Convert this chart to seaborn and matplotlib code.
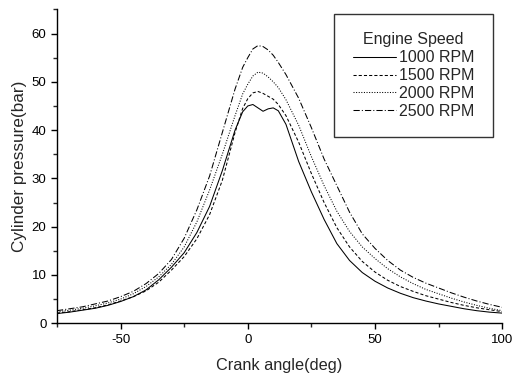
import matplotlib
matplotlib.use("Agg")
import matplotlib.pyplot as plt
from matplotlib.ticker import MultipleLocator
import seaborn as sns
import pandas as pd

crank_angle = [-75, -70, -65, -60, -55, -50, -45, -40, -35, -30, -25, -20, -15, -10, -5, -2,
               0, 2, 4, 6, 8, 10, 12, 15, 20, 25, 30, 35, 40, 45, 50, 55, 60, 65, 70, 75,
               80, 85, 90, 95, 100]

p_1000 = [2.0, 2.3, 2.7, 3.1, 3.7, 4.5, 5.5, 6.9, 9.0, 11.6, 14.6, 18.8, 24.2, 31.6, 40.0, 43.8,
          45.0, 45.3, 44.6, 43.9, 44.4, 44.6, 44.0, 41.2, 33.5, 27.2, 21.5, 16.5, 13.0, 10.5, 8.7, 7.3, 6.2, 5.3, 4.6, 4.0,
          3.5, 3.0, 2.6, 2.3, 2.1]
p_1500 = [2.1, 2.4, 2.8, 3.2, 3.8, 4.6, 5.5, 6.7, 8.5, 11.0, 13.8, 17.5, 22.5, 29.6, 39.5, 44.5,
          46.5, 47.7, 48.0, 47.6, 47.0, 46.4, 45.3, 43.0, 37.5, 31.0, 25.0, 19.8, 15.8, 12.8, 10.6, 8.9, 7.6, 6.6, 5.7, 5.0,
          4.3, 3.7, 3.2, 2.8, 2.4]
p_2000 = [2.4, 2.7, 3.1, 3.6, 4.2, 5.0, 6.1, 7.6, 9.6, 12.2, 15.8, 21.0, 27.6, 35.0, 43.0, 47.5,
          49.5, 51.2, 52.0, 51.8, 51.0, 50.0, 48.8, 46.3, 41.0, 34.5, 28.5, 23.2, 19.0, 15.8, 13.4, 11.3, 9.6, 8.2, 7.0, 6.1,
          5.2, 4.4, 3.7, 3.1, 2.6]
p_2500 = [2.6, 3.0, 3.4, 4.0, 4.6, 5.5, 6.6, 8.2, 10.3, 13.2, 17.6, 23.5, 30.5, 39.5, 48.5, 53.0,
          55.0, 56.8, 57.5, 57.3, 56.6, 55.5, 54.0, 51.5, 46.6, 40.5, 34.0, 28.5, 23.0, 18.5, 15.5, 13.0, 11.0, 9.5, 8.3, 7.3,
          6.3, 5.4, 4.6, 3.9, 3.3]

series_labels = ["1000 RPM", "1500 RPM", "2000 RPM", "2500 RPM"]
series_values = [p_1000, p_1500, p_2000, p_2500]
line_styles = ["-", (0, (3, 2)), (0, (1, 1.5)), (0, (6, 2, 1, 2))]

x_ticks = [-50, 0, 50, 100]
y_ticks = [0, 10, 20, 30, 40, 50, 60]

sns.set_style("ticks")
plt.rcParams["font.family"] = ["Liberation Sans", "DejaVu Sans"]
plt.rcParams["axes.unicode_minus"] = False

fig = plt.figure(figsize=(5.13, 3.75), dpi=100)
ax = fig.add_axes([0.111, 0.138, 0.868, 0.837])

for label, vals, ls in zip(series_labels, series_values, line_styles):
    df = pd.DataFrame({"angle": crank_angle, "pressure": vals})
    sns.lineplot(data=df, x="angle", y="pressure", ax=ax, color="black",
                 linewidth=0.75, linestyle=ls, label=label)

ax.set_xlim(-75, 100)
ax.set_ylim(0, 65)
ax.set_xticks(x_ticks)
ax.set_yticks(y_ticks)
ax.xaxis.set_minor_locator(MultipleLocator(25))
ax.yaxis.set_minor_locator(MultipleLocator(5))
ax.tick_params(axis="both", which="major", direction="out", length=4, width=1,
               labelsize=9.5, colors="black")
ax.tick_params(axis="both", which="minor", direction="out", length=3, width=1)
sns.despine(ax=ax)
for s in ["left", "bottom"]:
    ax.spines[s].set_linewidth(1.0)
    ax.spines[s].set_color("black")

ax.set_xlabel("Crank angle(deg)", fontsize=11.7, labelpad=9)
ax.set_ylabel("Cylinder pressure(bar)", fontsize=12.3, labelpad=3)

leg = ax.legend(title="Engine Speed", loc="upper right",
                bbox_to_anchor=(493 / 513, 1 - 14 / 375),
                bbox_transform=fig.transFigure, fontsize=11.5, title_fontsize=11.5,
                handlelength=2.7, handletextpad=0.2, fancybox=False,
                frameon=True, borderpad=1.15, labelspacing=0.18, borderaxespad=0)
leg.get_frame().set_edgecolor("black")
leg.get_frame().set_linewidth(1.0)

fig.savefig("out.png", dpi=100)
